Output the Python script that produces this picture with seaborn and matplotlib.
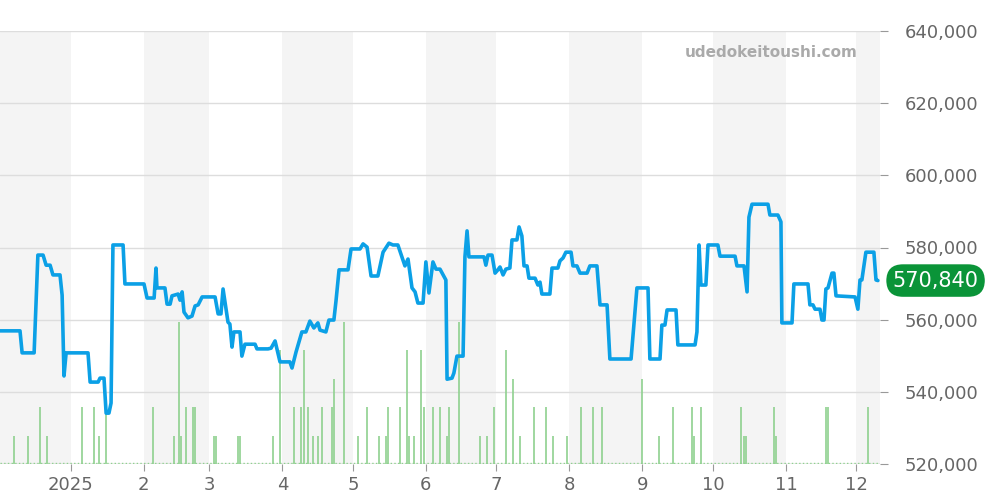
import numpy as np
import pandas as pd
import matplotlib
matplotlib.use("Agg")
import matplotlib.pyplot as plt
import seaborn as sns

# --- Data ---
START = pd.Timestamp("2024-12-02")
END = pd.Timestamp("2025-12-11")

price_days = [0, 8.5, 9.4, 14.5, 16.1, 18.3, 19.6, 21.3, 22.5, 25.5, 26.4, 27.2, 28.1, 37.4, 38.3, 41.7,
              42.5, 44.2, 45.1, 46.3, 47.2, 48.0, 52.3, 53.1, 61.2, 62.5, 65.5, 66.3, 66.7, 70.1, 71.0,
              72.3, 73.1, 75.7, 76.5, 77.4, 78.2, 79.9, 81.6, 82.9, 84.2, 85.9, 91.4, 92.7, 93.9, 94.8,
              96.0, 96.9, 97.7, 98.6, 99.4, 102.0, 102.8, 104.1, 108.4, 109.2, 113.9, 115.2, 116.9, 119.0,
              123.2, 124.1, 125.8, 128.3, 130.0, 131.7, 133.4, 135.1, 136.0, 138.5, 139.8, 141.9, 142.8,
              144.1, 147.9, 149.2, 153.0, 154.3, 156.0, 157.7, 160.6, 162.8, 165.3, 167.0, 169.1, 170.8,
              172.1, 173.4, 175.1, 176.4, 177.6, 179.8, 181.0, 182.3, 184.0, 185.3, 187.0, 189.5, 190.0,
              192.1, 192.9, 194.2, 196.8, 197.6, 198.5, 199.3, 205.7, 206.5, 207.4, 209.1, 210.4, 211.6,
              212.5, 213.8, 215.0, 216.7, 217.6, 219.7, 220.6, 221.8, 222.7, 224.0, 224.8, 227.4, 228.6,
              229.5, 230.3, 233.7, 234.6, 237.1, 238.0, 239.3, 240.5, 242.7, 243.5, 245.2, 246.5, 249.5,
              250.7, 253.7, 255.0, 258.0, 259.2, 268.2, 270.7, 275.4, 276.2, 280.5, 281.3, 282.6, 283.5,
              287.3, 288.1, 295.4, 296.2, 297.1, 297.9, 300.0, 300.9, 305.1, 306.0, 312.4, 313.2, 316.2,
              317.5, 318.3, 319.6, 326.4, 327.2, 330.6, 331.9, 332.3, 336.6, 337.4, 343.4, 344.2, 345.5,
              346.4, 348.5, 349.3, 350.2, 351.0, 351.9, 353.6, 354.4, 355.3, 363.4, 364.6, 365.5, 366.3,
              368.0, 371.4, 372.3, 373.1]
price_k = [556.9, 556.9, 550.8, 550.8, 577.9, 577.9, 575.1, 575.1, 572.4, 572.4, 566.8, 544.4, 550.8, 550.8,
           542.7, 542.7, 543.8, 543.8, 534.1, 534.1, 536.9, 580.7, 580.7, 569.9, 569.9, 566.0, 566.0, 574.3,
           568.8, 568.8, 564.3, 564.3, 566.6, 567.1, 565.4, 567.7, 562.1, 560.5, 561.0, 563.8, 564.1, 566.3,
           566.3, 561.6, 561.6, 568.5, 563.2, 559.3, 558.8, 552.4, 556.6, 556.6, 549.9, 553.2, 553.2, 551.9,
           551.9, 552.1, 554.1, 548.3, 548.3, 546.6, 551.0, 556.6, 556.6, 559.6, 557.7, 559.1, 557.1, 556.6,
           559.9, 559.9, 565.2, 573.8, 573.8, 579.6, 579.6, 581.0, 580.1, 572.1, 572.1, 578.7, 581.2, 580.7,
           580.7, 577.4, 574.9, 576.8, 568.8, 567.7, 564.6, 564.6, 576.0, 567.4, 576.0, 574.0, 574.0, 571.0,
           543.5, 543.8, 545.2, 549.9, 549.9, 577.4, 584.6, 577.4, 577.4, 575.1, 577.9, 577.9, 572.9, 573.8,
           574.6, 572.4, 574.0, 574.3, 582.1, 582.1, 585.7, 583.2, 574.9, 574.9, 571.5, 571.5, 569.6, 570.4,
           567.1, 567.1, 574.3, 574.3, 576.3, 577.1, 578.7, 578.7, 574.9, 574.9, 572.9, 572.9, 574.9, 574.9,
           564.1, 564.1, 549.1, 549.1, 568.8, 568.8, 549.1, 549.1, 558.5, 558.5, 562.7, 562.7, 553.0, 553.0,
           556.6, 580.7, 569.6, 569.6, 580.7, 580.7, 577.6, 577.6, 574.9, 574.9, 567.7, 588.4, 592.0, 592.0,
           589.0, 589.0, 587.1, 559.1, 559.1, 569.9, 569.9, 564.1, 564.1, 562.9, 562.9, 559.9, 559.9, 568.5,
           568.8, 572.9, 572.9, 566.6, 566.3, 562.9, 571.0, 571.0, 578.7, 578.7, 571.0, 570.84]

volume_days = [6, 12, 17, 20, 35, 40, 42, 45, 65, 74, 76, 77, 79, 82, 83, 91, 92, 101, 102, 116, 119, 125,
               128, 129, 131, 133, 135, 137, 141, 142, 146, 152, 156, 161, 164, 165, 170, 173, 174, 176, 179,
               180, 184, 187, 190, 191, 195, 204, 207, 210, 215, 218, 221, 227, 232, 235, 241, 247, 252, 256,
               273, 280, 286, 294, 295, 298, 315, 316, 317, 329, 330, 351, 352, 369]
volume = [1, 1, 2, 1, 2, 2, 1, 2, 2, 1, 5, 1, 2, 2, 2, 1, 1, 1, 1, 1, 4, 2, 2, 4, 2, 1, 1, 2, 2, 3, 5, 1,
          2, 1, 1, 2, 2, 4, 1, 1, 4, 2, 2, 2, 1, 2, 5, 1, 1, 2, 4, 3, 1, 2, 2, 1, 1, 2, 2, 2, 3, 1, 2, 2,
          1, 2, 2, 1, 1, 2, 1, 2, 2, 2]

y_ticks = [520000, 540000, 560000, 580000, 600000, 620000, 640000]
month_labels = ["2025", "2", "3", "4", "5", "6", "7", "8", "9", "10", "11", "12"]
last_price = "570,840"

# --- Build frames ---
df = pd.DataFrame({
    "date": START + pd.to_timedelta(np.array(price_days), unit="D"),
    "price": np.array(price_k) * 1000,
})
vol_dates = START + pd.to_timedelta(np.array(volume_days), unit="D")

# --- Plot ---
sns.set_style("white")
plt.rcParams["font.family"] = ["DejaVu Sans"]
fig = plt.figure(figsize=(10, 5), dpi=100)
ax = fig.add_axes([0.0, 0.072, 0.88, 0.866])

# alternating month shading
for m in ["2024-12-01", "2025-02-01", "2025-04-01", "2025-06-01", "2025-08-01", "2025-10-01", "2025-12-01"]:
    s = pd.Timestamp(m)
    ax.axvspan(max(s, START), s + pd.offsets.MonthBegin(1), color="#f4f4f4", zorder=0, lw=0)

ax2 = ax.twinx()
ax2.vlines(vol_dates, 0, volume, color="#8fd18f", lw=1.2)
ax2.axhline(0.05, color="#8fd18f", lw=1, ls=":")
ax2.set_ylim(0, 15.2)
ax2.set_yticks([])
for s in ax2.spines.values():
    s.set_visible(False)

ax3 = ax.twinx()
sns.lineplot(data=df, x="date", y="price", ax=ax3, color="#0ba0e6", lw=2.6)
ax3.set_ylim(520000, 640000)
ax3.set_yticks(y_ticks)
ax3.set_yticklabels([f"{v:,}" for v in y_ticks], fontsize=13, color="#666666")
ax3.tick_params(axis="y", length=6, color="#999999", pad=12)
ax3.set_ylabel("")
ax3.set_xlabel("")
for s in ax3.spines.values():
    s.set_visible(False)

ax.set_ylim(520000, 640000)
ax.set_yticks(y_ticks)
ax.set_yticklabels([])
ax.tick_params(axis="y", length=0)
ax.grid(axis="y", color="#dddddd", lw=1)
ax.set_xlim(START, END)
ax3.set_xlim(START, END)
months = pd.date_range("2025-01-01", "2025-12-01", freq="MS")
ax.set_xticks(months)
ax.set_xticklabels(month_labels, fontsize=13, color="#666666")
ax.tick_params(axis="x", length=5, color="#999999", bottom=True)
ax3.tick_params(axis="x", length=0, labelbottom=False)
for s in ax.spines.values():
    s.set_visible(False)
ax.axhline(520000, color="#bbbbbb", lw=1)

ax3.text(0.975, 0.95, "udedokeitoushi.com", transform=ax3.transAxes, ha="right", va="center",
         fontsize=11, fontweight="bold", color="#aaaaaa")
ax3.annotate(last_price, xy=(1.0, 570840), xycoords=("axes fraction", "data"), xytext=(40, 0),
             textcoords="offset points", ha="center", va="center", fontsize=15, color="white",
             bbox=dict(boxstyle="round,pad=0.3,rounding_size=0.8", fc="#0a9438", ec="none"))

fig.savefig("out.png")
